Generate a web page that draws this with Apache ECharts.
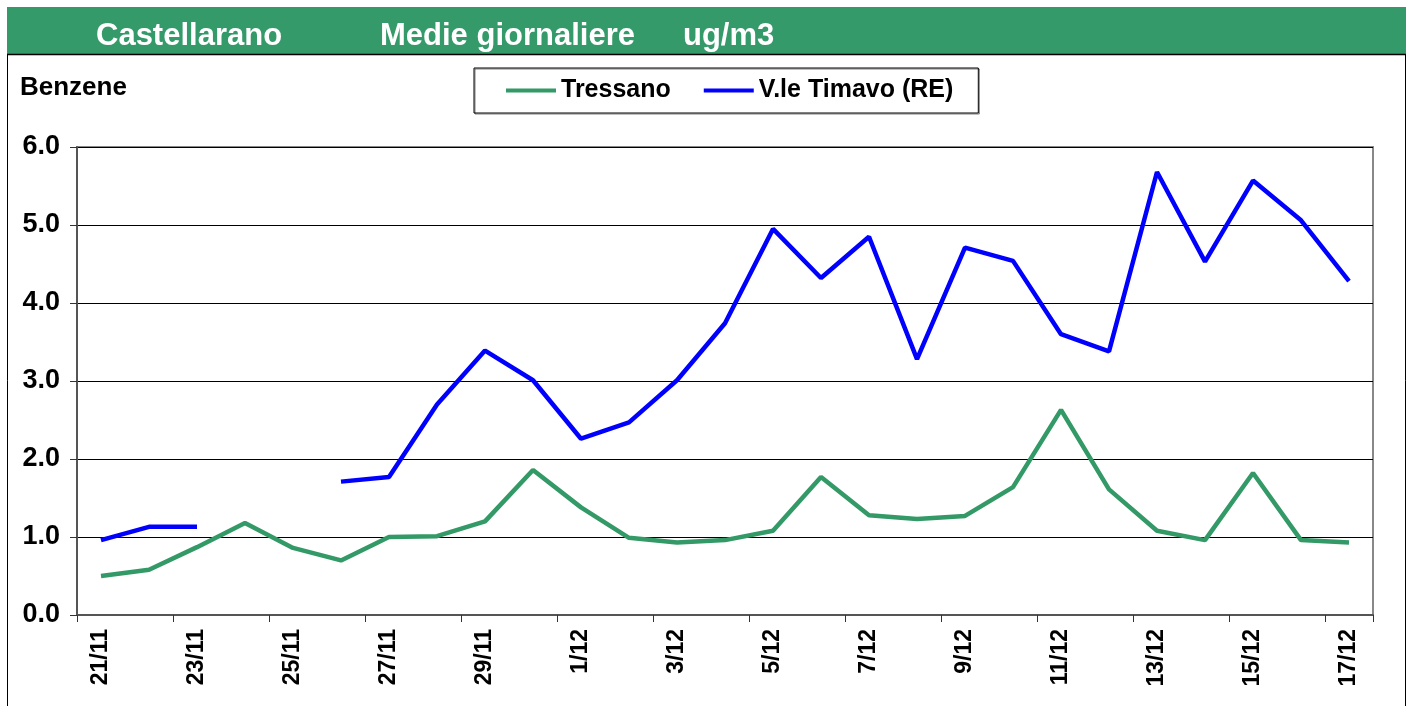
<!DOCTYPE html>
<html>
<head>
<meta charset="utf-8">
<script src="https://cdn.jsdelivr.net/npm/echarts@6/dist/echarts.min.js"></script>
<style>
html,body{margin:0;padding:0;background:#fff;}
#chart{width:1412px;height:706px;}
</style>
</head>
<body>
<div id="chart"></div>
<script>
//dati
var days = ['21/11','22/11','23/11','24/11','25/11','26/11','27/11','28/11','29/11','30/11',
	'1/12','2/12','3/12','4/12','5/12','6/12','7/12','8/12','9/12','10/12',
	'11/12','12/12','13/12','14/12','15/12','16/12','17/12'];
var tressano = [0.50,0.58,0.87,1.18,0.86,0.70,1.00,1.01,1.20,1.86,
	1.38,0.99,0.93,0.96,1.08,1.77,1.28,1.23,1.27,1.64,
	2.63,1.61,1.08,0.96,1.82,0.96,0.93];
var timavo = [0.96,1.13,1.13,null,null,1.71,1.77,2.70,3.39,3.01,
	2.26,2.47,3.01,3.74,4.95,4.32,4.85,3.28,4.71,4.54,
	3.60,3.38,5.68,4.53,5.57,5.06,4.28];
var yTicks = [0,1,2,3,4,5,6];

var font = 'Liberation Sans, Arial, sans-serif';
var mychart = echarts.init(document.getElementById('chart'));
var option = {
	color:['#339966','#0000ff'],
	animation:false,
	graphic:[
		{
			type:'rect',
			shape:{x:7.5,y:54.5,width:1398,height:700},
			style:{fill:'#fff',stroke:'#000',lineWidth:1},
			z:-10
		},
		{
			type:'rect',
			shape:{x:7,y:7,width:1399,height:47},
			style:{fill:'#359a6a'},
			z:-5
		},
		{
			type:'line',
			shape:{x1:7,y1:54.5,x2:1406,y2:54.5},
			style:{stroke:'#000',lineWidth:1.5}
		}
	],
	title:[
		{text:'Castellarano',left:96,top:21,padding:0,textStyle:{color:'#fff',fontSize:31,fontWeight:'bold',fontFamily:font}},
		{text:'Medie giornaliere',left:380,top:21,padding:0,textStyle:{color:'#fff',fontSize:31,fontWeight:'bold',fontFamily:font}},
		{text:'ug/m3',left:683,top:21,padding:0,textStyle:{color:'#fff',fontSize:31,fontWeight:'bold',fontFamily:font}},
		{text:'Benzene',left:20,top:75,padding:0,textStyle:{color:'#000',fontSize:26,fontWeight:'bold',fontFamily:font}}
	],
	legend:{
		left:474,
		top:68,
		icon:'rect',
		itemWidth:50,
		itemHeight:4,
		itemGap:33,
		padding:[10,25,10,32],
		borderColor:'#000',
		borderWidth:1,
		shadowColor:'rgba(0,0,0,0.5)',
		shadowOffsetX:1,
		shadowOffsetY:1,
		textStyle:{color:'#000',fontSize:25,fontWeight:'bold',fontFamily:font},
		data:['Tressano','V.le Timavo (RE)']
	},
	grid:{
		left:77,
		top:147,
		right:39,
		bottom:91,
		show:true,
		borderColor:'#888',
		borderWidth:2,
		containLabel:false
	},
	xAxis:{
		type:'category',
		boundaryGap:true,
		data:days,
		axisLine:{lineStyle:{color:'#555',width:2}},
		axisTick:{show:true,interval:1,length:7,lineStyle:{color:'#333',width:1}},
		axisLabel:{
			interval:1,
			rotate:90,
			margin:14,
			color:'#000',
			fontSize:23,
			fontWeight:'bold',
			fontFamily:font
		}
	},
	yAxis:{
		type:'value',
		min:yTicks[0],
		max:yTicks[yTicks.length-1],
		interval:1,
		axisLine:{show:true,lineStyle:{color:'#555',width:2}},
		axisTick:{show:true,length:7,lineStyle:{color:'#333'}},
		splitLine:{lineStyle:{color:'#000',width:1}},
		axisLabel:{
			margin:17,
			color:'#000',
			fontSize:27,
			fontWeight:'bold',
			fontFamily:font,
			formatter:function(v){return v.toFixed(1)}
		}
	},
	series:[
		{
			name:'Tressano',
			type:'line',
			data:tressano,
			symbol:'none',
			lineStyle:{width:4.5,color:'#339966'}
		},
		{
			name:'V.le Timavo (RE)',
			type:'line',
			data:timavo,
			symbol:'none',
			connectNulls:false,
			lineStyle:{width:4.5,color:'#0000ff'}
		}
	]
};
mychart.setOption(option);
</script>
</body>
</html>
